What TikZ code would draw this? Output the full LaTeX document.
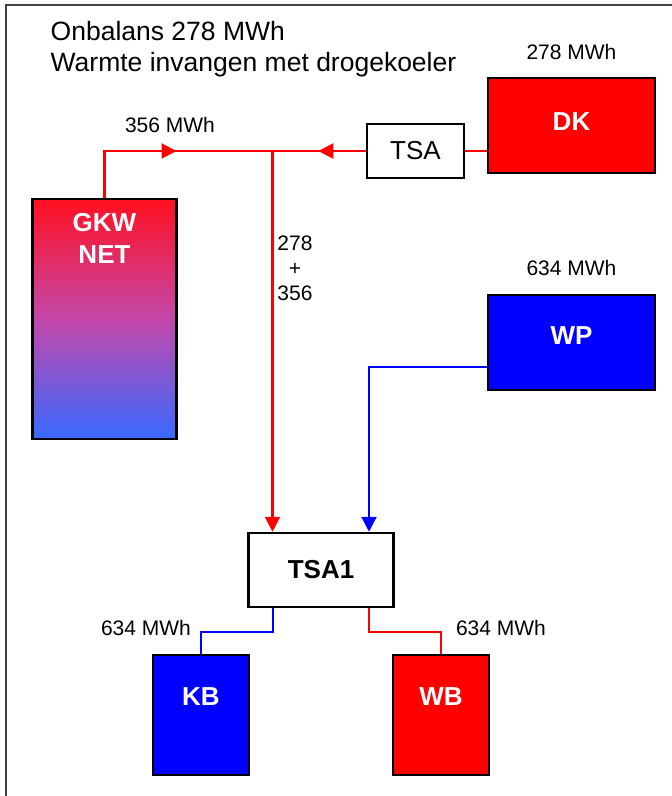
\documentclass[tikz,border=0pt]{standalone}
\usepackage{fontspec}
\setmainfont{Liberation Sans}
\usetikzlibrary{arrows.meta,decorations.markings}

\definecolor{gkwtop}{RGB}{255,16,32}
\definecolor{gkwmid}{RGB}{196,72,170}
\definecolor{gkwbot}{RGB}{55,105,255}

\tikzset{
  box/.style={draw=black, line width=2.5pt, inner sep=0pt},
  unit/.style={box, minimum width=167pt, minimum height=95pt},
  tank/.style={box, minimum width=96pt, minimum height=120pt},
  btxt/.style={text=white, inner sep=0pt, align=center, font=\bfseries\fontsize{26}{32}\selectfont},
  lbl/.style={font=\fontsize{21}{25}\selectfont},
  pipe/.style={line width=2.2pt},
  inflow/.style={-{Triangle[length=15pt,width=15pt]}},
  midflow/.style={postaction={decorate}, decoration={markings,
    mark=at position #1 with {\arrow{Triangle[length=15pt,width=15pt]}}}}
}

\begin{document}
\begin{tikzpicture}[x=1pt, y=-1pt]
    \useasboundingbox (0,0) rectangle (672,796);
    % frame
    \draw[line width=2pt, black!75] (6,800) -- (6,5) -- (680,5);

    % title
    \node[anchor=north west, inner sep=0pt, align=left,
          font=\fontsize{26.5}{31}\selectfont] (title) at (50.5,21.5)
        {Onbalans 278 MWh\\Warmte invangen met drogekoeler};

    % drogekoeler en TSA
    \node[unit, fill=red, label={[btxt, yshift=3.5pt]center:DK}] (dk) at (571.5,125.5) {};
    \node[lbl] (dklbl) at (571.5,52) {278 MWh};
    \node[box, line width=2pt, minimum width=97pt, minimum height=54pt,
          font=\fontsize{26}{30}\selectfont] (tsa) at (415.5,151) {TSA};

    % warmtepomp
    \node[unit, fill=blue, label={[btxt, yshift=6.5pt]center:WP}] (wp) at (571.5,342.5) {};
    \node[lbl] (wplbl) at (571.5,268) {634 MWh};

    % GKW net
    \node[box, minimum width=144pt, minimum height=240pt,
          top color=gkwtop, bottom color=gkwbot, middle color=gkwmid,
          label={[btxt, anchor=north, yshift=-15pt]north:GKW\\NET}] (gkw) at (104.5,319) {};

    % TSA1 en buffers
    \node[box, minimum width=145pt, minimum height=74pt,
          font=\bfseries\fontsize{26}{30}\selectfont] (tsa1) at (321,570) {TSA1};
    \node[tank, fill=blue, label={[btxt, yshift=18pt]center:KB}] (kb) at (201,715) {};
    \node[tank, fill=red, label={[btxt, yshift=18pt]center:WB}] (wb) at (441,715) {};
    \node[lbl] (kblbl) at (146,628) {634 MWh};
    \node[lbl] (wblbl) at (501,628) {634 MWh};

    % rode leidingen
    \coordinate (jn) at (272.5,151);
    \draw[red, pipe] (tsa.east) -- (tsa.east -| dk.west);
    \draw[red, pipe, midflow=0.51] (tsa.west) -- (jn);
    \draw[red, pipe, midflow=0.553] (gkw.north) |- (jn);
    \draw[red, pipe, inflow] (jn) -- (jn |- tsa1.north);
    \node[lbl] (klbl) at (170,125) {356 MWh};
    \node[lbl, align=center, font=\fontsize{21}{25}\selectfont] (sumlbl) at (295,268) {278\\+\\356};

    % blauwe leiding
    \draw[blue, pipe, inflow] ([yshift=-24.5pt]wp.west) -| ([xshift=48pt]tsa1.north);

    % naar buffers
    \draw[blue, pipe] ([xshift=-48pt]tsa1.south) -- ++(0,24) -| (kb.north);
    \draw[red, pipe] ([xshift=48pt]tsa1.south) -- ++(0,24) -| (wb.north);
\end{tikzpicture}
\end{document}
